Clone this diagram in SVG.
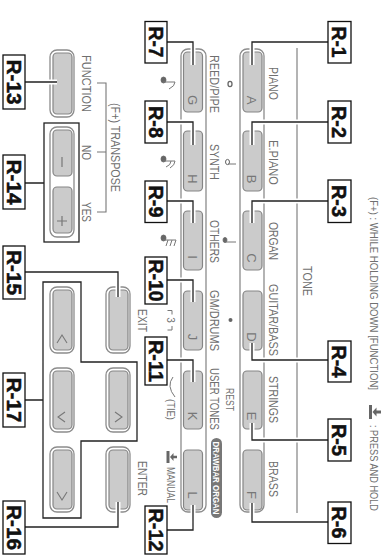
<svg xmlns="http://www.w3.org/2000/svg" width="384" height="555" viewBox="0 0 384 555">
<style>
text{font-family:"Liberation Sans",Arial,sans-serif;text-anchor:middle}
.t{font-size:12.5px;fill:#6f6f6f}
.s{font-size:10px;fill:#707070}
.k{font-size:13px;fill:#777}
.r{font-size:21px;font-weight:700;fill:#111;stroke:#111;stroke-width:.5}
.d{font-size:9px;font-weight:700;fill:#fff}
.o{fill:#fff;stroke:#8c8c8c;stroke-width:1.3}
.b{fill:#cbcbcb;stroke:#858585;stroke-width:1.2}
.g{fill:none;stroke:#8c8c8c;stroke-width:1.3}
.v{fill:none;stroke:#777;stroke-width:1.1}
.c{fill:none;stroke:#fff;stroke-width:5}
.l{fill:none;stroke:#222;stroke-width:1.3}
.x{fill:#fff;stroke:#111;stroke-width:1.3}
.n{fill:#666;stroke:#666;stroke-width:.8}
.nl{fill:none;stroke:#777;stroke-width:1}
</style>
<g id="header">
<text class="s" transform="translate(369.5,293.5) rotate(90)" textLength="193" lengthAdjust="spacingAndGlyphs">(F+) : WHILE HOLDING DOWN [FUNCTION]</text>
<path d="M370.5 405V419" stroke="#666" stroke-width="3" fill="none"/>
<path d="M372.5 412L376.5 407.5V416.5Z" fill="#666"/><path d="M376 412H381" stroke="#666" stroke-width="3"/>
<text class="s" transform="translate(369.5,468) rotate(90)" textLength="86" lengthAdjust="spacingAndGlyphs">: PRESS AND HOLD</text>
</g>
<g id="tone-group">
<path class="g" d="M297 48V513"/>
<text class="t" transform="translate(303,281) rotate(90)" textLength="30" lengthAdjust="spacingAndGlyphs">TONE</text>
<rect class="o" x="240" y="49" width="24" height="463" rx="7"/>
<rect class="o" x="181" y="49" width="25" height="463" rx="7"/>
</g>
<g id="btn-a"><rect class="b" x="243" y="52" width="19" height="60" rx="4"/><text class="k" transform="translate(247,100) rotate(90)">A</text><text class="t" transform="translate(269,83.5) rotate(90)" textLength="33" lengthAdjust="spacingAndGlyphs">PIANO</text></g>
<g id="btn-b"><rect class="b" x="243" y="131" width="19" height="60" rx="4"/><text class="k" transform="translate(247,179) rotate(90)">B</text><text class="t" transform="translate(269,162.5) rotate(90)" textLength="45" lengthAdjust="spacingAndGlyphs">E.PIANO</text></g>
<g id="btn-c"><rect class="b" x="243" y="211" width="19" height="59" rx="4"/><text class="k" transform="translate(247,258) rotate(90)">C</text><text class="t" transform="translate(269,241) rotate(90)" textLength="38" lengthAdjust="spacingAndGlyphs">ORGAN</text></g>
<g id="btn-d"><rect class="b" x="243" y="291" width="19" height="59" rx="4"/><text class="k" transform="translate(247,337) rotate(90)">D</text><text class="t" transform="translate(269,320) rotate(90)" textLength="72" lengthAdjust="spacingAndGlyphs">GUITAR/BASS</text></g>
<g id="btn-e"><rect class="b" x="243" y="371" width="19" height="58" rx="4"/><text class="k" transform="translate(247,416) rotate(90)">E</text><text class="t" transform="translate(269,399.5) rotate(90)" textLength="47" lengthAdjust="spacingAndGlyphs">STRINGS</text></g>
<g id="btn-f"><rect class="b" x="243" y="450" width="19" height="60" rx="4"/><text class="k" transform="translate(247,495) rotate(90)">F</text><text class="t" transform="translate(269,479) rotate(90)" textLength="36" lengthAdjust="spacingAndGlyphs">BRASS</text></g>
<g id="btn-g"><rect class="b" x="183.500" y="52" width="19" height="60" rx="4"/><text class="k" transform="translate(188,100) rotate(90)">G</text><text class="t" transform="translate(210,84) rotate(90)" textLength="58" lengthAdjust="spacingAndGlyphs">REED/PIPE</text>
<ellipse cx="230" cy="84" rx="2" ry="2.600" fill="#fff" stroke="#666" stroke-width="1.300"/>
<ellipse class="n" cx="163.500" cy="80" rx="2.500" ry="3"/><path class="nl" d="M163 82H175Q175 86 169 89"/></g>
<g id="btn-h"><rect class="b" x="183.500" y="131" width="19" height="60" rx="4"/><text class="k" transform="translate(188,179) rotate(90)">H</text><text class="t" transform="translate(210,162) rotate(90)" textLength="36" lengthAdjust="spacingAndGlyphs">SYNTH</text>
<ellipse cx="227.500" cy="162" rx="2" ry="2.600" fill="#fff" stroke="#666" stroke-width="1"/><path class="nl" d="M228 164H236"/>
<ellipse class="n" cx="163.500" cy="159" rx="2.500" ry="3"/><path class="nl" d="M163 161H175Q175 165 170 168M171 161Q171 165 166 167"/></g>
<g id="btn-i"><rect class="b" x="183.500" y="211" width="19" height="59" rx="4"/><text class="k" transform="translate(188,257) rotate(90)">I</text><text class="t" transform="translate(210,241.500) rotate(90)" textLength="43" lengthAdjust="spacingAndGlyphs">OTHERS</text>
<ellipse class="n" cx="225" cy="240" rx="2" ry="2.600"/><path class="nl" d="M225 242H236"/>
<ellipse class="n" cx="163.500" cy="238" rx="2.500" ry="3"/><path class="nl" d="M163 240H176L174 246M172 240L170 246M168 240L166 246"/></g>
<g id="btn-j"><rect class="b" x="183.500" y="291" width="19" height="59" rx="4"/><text class="k" transform="translate(188,337) rotate(90)">J</text><text class="t" transform="translate(210,320.500) rotate(90)" textLength="61" lengthAdjust="spacingAndGlyphs">GM/DRUMS</text>
<circle cx="230.500" cy="320" r="2" fill="#666"/>
<path class="nl" d="M167.500 310.500H172V314.500M172 326V330H167.500"/><text class="s" transform="translate(166.500,320) rotate(90)">3</text>
<text class="s" transform="translate(137.500,320.500) rotate(90)" textLength="23" lengthAdjust="spacingAndGlyphs" style="font-size:12px">EXIT</text></g>
<g id="btn-k"><rect class="b" x="183.500" y="371" width="19" height="58" rx="4"/><text class="k" transform="translate(188,416) rotate(90)">K</text><text class="t" transform="translate(210,399) rotate(90)" textLength="62" lengthAdjust="spacingAndGlyphs">USER TONES</text>
<text class="s" transform="translate(226,399.500) rotate(90)" textLength="23" lengthAdjust="spacingAndGlyphs">REST</text>
<path class="nl" d="M173 377Q166 386 175 397"/><text class="s" transform="translate(167,409.500) rotate(90)" textLength="21" lengthAdjust="spacingAndGlyphs">(TIE)</text></g>
<g id="btn-l"><rect class="b" x="183.500" y="450" width="19" height="60" rx="4"/><text class="k" transform="translate(188,495) rotate(90)">L</text>
<rect x="211" y="438" width="11" height="80" rx="5.500" fill="#777"/><text class="d" transform="translate(213.200,478) rotate(90)" textLength="73" lengthAdjust="spacingAndGlyphs">DRAWBAR ORGAN</text>
<path d="M168 451V463" stroke="#666" stroke-width="3" fill="none"/><path d="M170 457L173.500 453V461Z" fill="#666"/><path d="M173 457H177" stroke="#666" stroke-width="2.500"/>
<text class="s" transform="translate(167,485) rotate(90)" textLength="36" lengthAdjust="spacingAndGlyphs">MANUAL</text></g>
<g id="function">
<rect class="o" x="50" y="50" width="24" height="67" rx="7"/><rect class="b" x="53" y="53" width="19" height="61" rx="4"/>
<text class="t" transform="translate(82,83.500) rotate(90)" textLength="57" lengthAdjust="spacingAndGlyphs">FUNCTION</text></g>
<g id="transpose">
<path class="v" d="M97 83H106V212H97M97 152H106"/>
<text class="t" style="font-size:12px" transform="translate(111,147.500) rotate(90)" textLength="89" lengthAdjust="spacingAndGlyphs">(F+) TRANSPOSE</text>
<text class="t" transform="translate(82,152.500) rotate(90)" textLength="15" lengthAdjust="spacingAndGlyphs">NO</text>
<text class="t" transform="translate(82,212) rotate(90)" textLength="20" lengthAdjust="spacingAndGlyphs">YES</text>
<rect class="o" x="50" y="127" width="24" height="110" rx="7"/>
<rect class="b" x="53" y="130" width="19" height="46" rx="4"/><path d="M62 157V167" stroke="#777" stroke-width="1.200"/>
<rect class="b" x="53" y="187" width="19" height="46" rx="4"/><path d="M62 216V226M57 221H67" stroke="#777" stroke-width="1.200"/>
</g>
<g id="btn-exit"><rect class="o" x="106" y="287" width="24" height="66" rx="7"/><rect class="b" x="109" y="290" width="19" height="60" rx="4"/></g>
<g id="btn-enter"><rect class="o" x="106" y="447" width="24" height="65" rx="7"/><rect class="b" x="109" y="450" width="19" height="59" rx="4"/>
<text class="s" style="font-size:12px" transform="translate(137.500,478.500) rotate(90)" textLength="35" lengthAdjust="spacingAndGlyphs">ENTER</text></g>
<g id="btn-up"><rect class="o" x="50" y="287" width="24" height="66" rx="7"/><rect class="b" x="53" y="290" width="19" height="60" rx="4"/><path class="v" d="M57 343L62 335L67 343"/></g>
<g id="btn-left"><rect class="o" x="50" y="368" width="24" height="64" rx="7"/><rect class="b" x="53" y="371" width="19" height="58" rx="4"/><path class="v" d="M65 412L58 417L65 422"/></g>
<g id="btn-right"><rect class="o" x="106" y="368" width="24" height="64" rx="7"/><rect class="b" x="109" y="371" width="19" height="58" rx="4"/><path class="v" d="M115 412L122 417L115 422"/></g>
<g id="btn-down"><rect class="o" x="50" y="447" width="24" height="65" rx="7"/><rect class="b" x="53" y="450" width="19" height="59" rx="4"/><path class="v" d="M57 492L62 500L67 492"/></g>
<g id="connectors">
<path class="c" d="M328 42H252V65M328 122H252V145M328 201H252V223M328 360H252V343M328 440H252V423M328 522H252V503M167 42H193V65M167 122H193V145M167 201H193V223M167 280H193V302M167 360H193V382M167 530H193V505M25 82H57M25 272H118V297M25 527H118V502"/>
<path class="l" d="M328 42H252V65M328 122H252V145M328 201H252V223M328 360H252V343M328 440H252V423M328 522H252V503M167 42H193V65M167 122H193V145M167 201H193V223M167 280H193V302M167 360H193V382M167 530H193V505M25 82H57M25 272H118V297M25 527H118V502M25 183H44M25 400H43"/>
<rect class="l" x="44" y="123" width="35" height="119"/>
<path class="l" d="M43 282H81V362H137V441H81V518H43Z"/>
</g>
<g id="label-r1"><rect class="x" x="328" y="21.500" width="23" height="41.500"/><text class="r" transform="translate(332,42) rotate(90)" textLength="31" lengthAdjust="spacingAndGlyphs">R-1</text></g>
<g id="label-r2"><rect class="x" x="328" y="101" width="23" height="42"/><text class="r" transform="translate(332,122) rotate(90)" textLength="32" lengthAdjust="spacingAndGlyphs">R-2</text></g>
<g id="label-r3"><rect class="x" x="328" y="180" width="23" height="42.500"/><text class="r" transform="translate(332,201) rotate(90)" textLength="32" lengthAdjust="spacingAndGlyphs">R-3</text></g>
<g id="label-r4"><rect class="x" x="328" y="341" width="23" height="41"/><text class="r" transform="translate(332,361.500) rotate(90)" textLength="32" lengthAdjust="spacingAndGlyphs">R-4</text></g>
<g id="label-r5"><rect class="x" x="328" y="419" width="23" height="42"/><text class="r" transform="translate(332,440) rotate(90)" textLength="32" lengthAdjust="spacingAndGlyphs">R-5</text></g>
<g id="label-r6"><rect class="x" x="328" y="502" width="23" height="41.500"/><text class="r" transform="translate(332,522.500) rotate(90)" textLength="32" lengthAdjust="spacingAndGlyphs">R-6</text></g>
<g id="label-r7"><rect class="x" x="145" y="21.500" width="22" height="41.500"/><text class="r" transform="translate(148.500,42) rotate(90)" textLength="31" lengthAdjust="spacingAndGlyphs">R-7</text></g>
<g id="label-r8"><rect class="x" x="145" y="101" width="22" height="42"/><text class="r" transform="translate(148.500,122) rotate(90)" textLength="32" lengthAdjust="spacingAndGlyphs">R-8</text></g>
<g id="label-r9"><rect class="x" x="145" y="181" width="22" height="41.500"/><text class="r" transform="translate(148.500,201.500) rotate(90)" textLength="32" lengthAdjust="spacingAndGlyphs">R-9</text></g>
<g id="label-r10"><rect class="x" x="145" y="257" width="22" height="47"/><text class="r" transform="translate(148.500,280.500) rotate(90)" textLength="42" lengthAdjust="spacingAndGlyphs">R-10</text></g>
<g id="label-r11"><rect class="x" x="145" y="337" width="22" height="48"/><text class="r" transform="translate(148.500,361) rotate(90)" textLength="42" lengthAdjust="spacingAndGlyphs">R-11</text></g>
<g id="label-r12"><rect class="x" x="145" y="506" width="22" height="48"/><text class="r" transform="translate(148.500,530) rotate(90)" textLength="43" lengthAdjust="spacingAndGlyphs">R-12</text></g>
<g id="label-r13"><rect class="x" x="3" y="55" width="22" height="54"/><text class="r" transform="translate(6.500,82) rotate(90)" textLength="45" lengthAdjust="spacingAndGlyphs">R-13</text></g>
<g id="label-r14"><rect class="x" x="3" y="155" width="22" height="54"/><text class="r" transform="translate(6.500,182) rotate(90)" textLength="45" lengthAdjust="spacingAndGlyphs">R-14</text></g>
<g id="label-r15"><rect class="x" x="3" y="246" width="22" height="53"/><text class="r" transform="translate(6.500,272.500) rotate(90)" textLength="45" lengthAdjust="spacingAndGlyphs">R-15</text></g>
<g id="label-r16"><rect class="x" x="3" y="501" width="22" height="53"/><text class="r" transform="translate(6.500,527.500) rotate(90)" textLength="45" lengthAdjust="spacingAndGlyphs">R-16</text></g>
<g id="label-r17"><rect class="x" x="3" y="373" width="22" height="54"/><text class="r" transform="translate(6.500,400) rotate(90)" textLength="45" lengthAdjust="spacingAndGlyphs">R-17</text></g>
</svg>
